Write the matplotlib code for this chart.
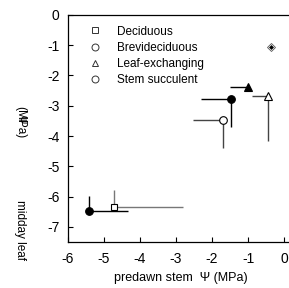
import numpy as np
import matplotlib.pyplot as plt

plt.rcParams['font.family'] = ['Liberation Sans', 'DejaVu Sans']

# leaf habit groups: predawn stem psi (x), midday leaf psi (y), one-sided error bars
groups = ['Deciduous', 'Brevideciduous', 'Leaf-exchanging', 'Stem succulent']

x_vals = [-4.71, -5.41, -1.47, -1.69, -0.99, -0.46]
y_vals = [-6.36, -6.47, -2.78, -3.47, -2.39, -2.67]
x_err_lo = [0.0, 0.0, 0.84, 0.83, 0.51, 0.44]
x_err_hi = [1.91, 1.09, 0.0, 0.0, 0.0, 0.0]
y_err_lo = [0.0, 0.0, 0.91, 0.93, 0.12, 1.51]
y_err_hi = [0.58, 0.50, 0.0, 0.0, 0.0, 0.0]
markers = ['s', 'o', 'o', 'o', '^', '^']
filled = [False, True, True, False, True, False]
bar_col = ['#777777', 'black', 'black', '#444444', 'black', '#444444']

extra_x = [-0.37]
extra_y = [-1.05]

fig = plt.figure(figsize=(2.89, 2.88), dpi=100)
ax = fig.add_axes([0.235, 0.16, 0.762, 0.788])

for i in range(len(x_vals)):
    ax.errorbar(x_vals[i], y_vals[i],
                xerr=[[x_err_lo[i]], [x_err_hi[i]]],
                yerr=[[y_err_lo[i]], [y_err_hi[i]]],
                fmt='none', ecolor=bar_col[i], elinewidth=1.0, capsize=0, zorder=2)
    ax.plot(x_vals[i], y_vals[i], marker=markers[i], ls='none',
            ms=5.5 if markers[i] != 's' else 5, mec='black', mew=0.8,
            mfc='black' if filled[i] else 'white', zorder=3)

ax.plot(extra_x, extra_y, marker='D', ls='none', ms=4.5, mfc='white',
        mec='#555555', mew=0.6, zorder=3)
ax.plot(extra_x, extra_y, marker='D', ls='none', ms=2.5, mfc='black',
        mec='black', mew=0, zorder=4)

# legend with open symbols
leg_markers = ['s', 'o', '^', 'o']
handles = [plt.Line2D([], [], marker=m, ls='none', ms=5, mfc='white',
                      mec='#333333', mew=0.7) for m in leg_markers]
ax.legend(handles, groups, loc='upper left', bbox_to_anchor=(0.02, 1.0),
          frameon=False, fontsize=8.5, handletextpad=0.9, labelspacing=0.35,
          borderaxespad=0.5)

ax.set_xlim(-6, 0.11)
ax.set_ylim(-7.5, 0)
ax.set_xticks(np.arange(-6, 1, 1))
ax.set_yticks(np.arange(-7, 1, 1))
ax.set_xticklabels([str(v) for v in range(-6, 1)])
ax.set_yticklabels([str(v) for v in range(-7, 1)])
ax.tick_params(direction='in', length=3.5, width=0.8, labelsize=10)
ax.tick_params(axis='x', pad=7)
ax.tick_params(axis='y', pad=6)
ax.spines['right'].set_visible(False)
for s in ['left', 'bottom', 'top']:
    ax.spines[s].set_linewidth(0.9)

fig.text(0.625, 0.035, 'predawn stem  \u03a8 (MPa)', ha='center', va='center', fontsize=9)
fig.text(0.07, 0.575, '(MPa)', rotation=270, ha='center', va='center', fontsize=8.5)
fig.text(0.07, 0.585, '\u03a8', rotation=270, ha='center', va='center', fontsize=7)
fig.text(0.07, 0.20, 'midday leaf', rotation=270, ha='center', va='center', fontsize=8.5)

fig.savefig('out.png', dpi=100)
